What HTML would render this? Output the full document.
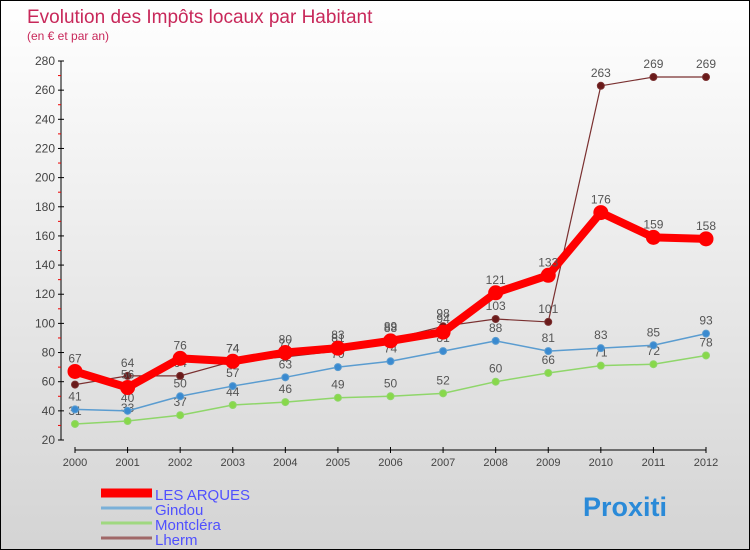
<!DOCTYPE html>
<html><head><meta charset="utf-8"><style>
body{margin:0;}
#c{width:748px;height:548px;border:1px solid #000;background:linear-gradient(#ffffff,#d4d4d4);position:relative;overflow:hidden;font-family:"Liberation Sans",sans-serif;}
</style></head><body>
<div id="c">
<svg id="s" width="748" height="548"></svg>
</div>
<script>
const years=["2000","2001","2002","2003","2004","2005","2006","2007","2008","2009","2010","2011","2012"];
const yTicks=[20,40,60,80,100,120,140,160,180,200,220,240,260,280];
const arques=[67,56,76,74,80,83,88,94,121,133,176,159,158];
const gindou=[41,40,50,57,63,70,74,81,88,81,83,85,93];
const montclera=[31,33,37,44,46,49,50,52,60,66,71,72,78];
const lherm=[58,64,64,74,77,81,89,98,103,101,263,269,269];
const seriesNames=["LES ARQUES","Gindou","Montcléra","Lherm"];

const NS="http://www.w3.org/2000/svg";
const svg=document.getElementById('s');
function X(i){return 74+i*(705-74)/12;}
function Y(v){return 439-(v-20)*(379/260);}
function el(t,a,txt){const e=document.createElementNS(NS,t);for(const k in a)e.setAttribute(k,a[k]);if(txt!==undefined)e.textContent=txt;svg.appendChild(e);return e;}

let t=el('text',{x:26,y:22,'font-size':19,fill:'#c8285a'},'Evolution des Impôts locaux par Habitant');

t=el('text',{x:26,y:39,'font-size':12,fill:'#c8285a'},'(en € et par an)');


let ax=el('line',{x1:60,y1:Y(280),x2:60,y2:Y(20),stroke:'#000'});

ax=el('line',{x1:X(0),y1:449,x2:X(12),y2:449,stroke:'#000'});

yTicks.forEach(v=>{
  el('line',{x1:57,y1:Y(v),x2:63,y2:Y(v),stroke:'#000'});
  if(v<280){el('line',{x1:57,y1:Y(v+10),x2:60,y2:Y(v+10),stroke:'#e00'});}
  const l=el('text',{x:54,y:Y(v)+4,'font-size':12,fill:'#444','text-anchor':'end'},v);
  
});
years.forEach((y,i)=>{
  el('line',{x1:X(i),y1:446,x2:X(i),y2:452,stroke:'#000'});
  const l=el('text',{x:X(i),y:465,'font-size':11,fill:'#444','text-anchor':'middle'},y);
  
});

function series(data,color,w,r,dot,name){
  const pts=data.map((v,i)=>X(i)+','+Y(v)).join(' ');
  const p=el('polyline',{points:pts,fill:'none',stroke:color,'stroke-width':w,'stroke-linejoin':'round'});
  
  data.forEach((v,i)=>{
    const c=el('circle',{cx:X(i),cy:Y(v),r:r,fill:dot,stroke:color,'stroke-width':1});
    
  });
  data.forEach((v,i)=>{
    const l=el('text',{x:X(i),y:Y(v)-9,'font-size':12,fill:'#555','text-anchor':'middle'},v);
    
  });
}
series(montclera,'#8fd66a',1.5,3.5,'#88d84a','montclera');
series(gindou,'#5a9cd0',1.5,3.5,'#3a8ad0','gindou');
series(lherm,'#7a3030',1.2,3.5,'#6a1a1a','lherm');
series(arques,'#f00',8,7,'#f00','les-arques');

const lc=['#f00','#7ab0d8','#a0d880','#a06868'];const lw=[9,3,3,3];
seriesNames.forEach((n,i)=>{
  const y=492+i*15;
  const ln=el('line',{x1:100,y1:y,x2:151,y2:y,stroke:lc[i],'stroke-width':lw[i]});
  
  const l=el('text',{x:154,y:y+7,'font-size':15,fill:'#5050ff'},n);
  
});
const logo=el('text',{x:582,y:515,'font-size':27,'font-weight':'bold',fill:'#2a8ad8'},'Proxiti');

</script>
</body></html>
